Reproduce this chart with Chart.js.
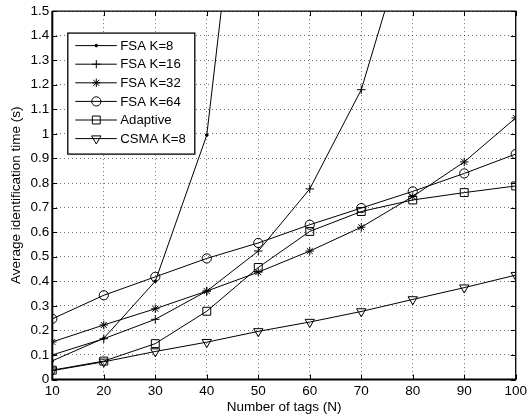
<!DOCTYPE html>
<html>
<head>
<meta charset="utf-8">
<script src="https://cdn.jsdelivr.net/npm/chart.js@4"></script>
<style>
  html, body { margin: 0; padding: 0; background: #fff; }
  canvas { display: block; }
</style>
</head>
<body>
<canvas id="chart" width="531" height="418"></canvas>
<script>
// number of tags on the x axis
const tagCounts = [10, 20, 30, 40, 50, 60, 70, 80, 90, 100];

// average identification time (s) per scheme
const fsaK8    = [0.076, 0.168, 0.400, 0.995, 2.80, null, null, null, null, null];
const fsaK16   = [0.100, 0.166, 0.245, 0.360, 0.523, 0.776, 1.180, 1.880, null, null];
const fsaK32   = [0.153, 0.222, 0.288, 0.360, 0.437, 0.523, 0.620, 0.745, 0.886, 1.065];
const fsaK64   = [0.247, 0.343, 0.418, 0.493, 0.556, 0.630, 0.698, 0.766, 0.839, 0.918];
const adaptive = [0.038, 0.075, 0.146, 0.278, 0.456, 0.603, 0.684, 0.731, 0.761, 0.788];
const csmaK8   = [0.036, 0.072, 0.114, 0.152, 0.196, 0.234, 0.277, 0.326, 0.374, 0.425];

const seriesNames = ['FSA K=8', 'FSA K=16', 'FSA K=32', 'FSA K=64', 'Adaptive', 'CSMA K=8'];
const yTickLabels = ['0', '0.1', '0.2', '0.3', '0.4', '0.5', '0.6', '0.7', '0.8', '0.9',
                     '1', '1.1', '1.2', '1.3', '1.4', '1.5'];

const FONT = 'Liberation Sans, Arial, Helvetica, sans-serif';

function points(values) {
  return tagCounts.map((n, i) => ({ x: n, y: values[i] }));
}

// marker style for each series, MATLAB-like hollow markers
function series(label, values, style, radius, rotation, fill) {
  return {
    label: label,
    data: points(values),
    borderColor: '#000',
    borderWidth: 1,
    tension: 0,
    fill: false,
    pointStyle: style,
    pointRadius: radius,
    pointHoverRadius: radius,
    pointRotation: rotation || 0,
    pointBorderColor: '#000',
    pointBorderWidth: 1,
    pointBackgroundColor: fill ? '#000' : 'rgba(0,0,0,0)'
  };
}

// frame, inward tick marks on all four sides
const framePlugin = {
  id: 'frame',
  afterDatasetsDraw(chart) {
    const ctx = chart.ctx;
    const a = chart.chartArea;
    const xs = chart.scales.x, ys = chart.scales.y;
    ctx.save();
    ctx.strokeStyle = '#000';
    ctx.lineWidth = 1;
    ctx.beginPath();
    xs.ticks.forEach(t => {
      const px = Math.round(xs.getPixelForValue(t.value)) + 0.5;
      ctx.moveTo(px, a.bottom); ctx.lineTo(px, a.bottom - 5);
      ctx.moveTo(px, a.top); ctx.lineTo(px, a.top + 5);
    });
    ys.ticks.forEach(t => {
      const py = Math.round(ys.getPixelForValue(t.value)) + 0.5;
      ctx.moveTo(a.left, py); ctx.lineTo(a.left + 5, py);
      ctx.moveTo(a.right, py); ctx.lineTo(a.right - 5, py);
    });
    ctx.stroke();
    // top and right edges thin, left and bottom heavier
    ctx.lineWidth = 1.3;
    ctx.beginPath();
    ctx.moveTo(a.left, a.top); ctx.lineTo(a.right, a.top); ctx.lineTo(a.right, a.bottom);
    ctx.stroke();
    ctx.lineWidth = 2;
    ctx.beginPath();
    ctx.moveTo(a.left, a.top); ctx.lineTo(a.left, a.bottom); ctx.lineTo(a.right, a.bottom);
    ctx.stroke();
    ctx.restore();
  }
};

// boxed legend in the upper left, line sample with marker
const legendBoxPlugin = {
  id: 'legendBox',
  afterDraw(chart) {
    const ctx = chart.ctx;
    const a = chart.chartArea;
    const bx = a.left + 15.5, by = a.top + 22, bw = 127, bh = 121;
    ctx.save();
    ctx.fillStyle = '#fff';
    ctx.fillRect(bx, by, bw, bh);
    ctx.strokeStyle = '#000';
    ctx.lineWidth = 1.3;
    ctx.strokeRect(bx, by, bw, bh);
    ctx.font = '13.2px ' + FONT;
    ctx.textBaseline = 'middle';
    ctx.textAlign = 'left';
    chart.data.datasets.forEach((ds, i) => {
      const y = by + 12.5 + i * 18.6;
      ctx.strokeStyle = '#000';
      ctx.lineWidth = 1;
      ctx.beginPath();
      ctx.moveTo(bx + 7.5, y);
      ctx.lineTo(bx + 49, y);
      ctx.stroke();
      ctx.fillStyle = ds.pointBackgroundColor;
      Chart.helpers.drawPoint(ctx, {
        pointStyle: ds.pointStyle,
        rotation: ds.pointRotation,
        radius: ds.pointRadius,
        borderWidth: 1
      }, bx + 28.5, y);
      ctx.fillStyle = '#000';
      ctx.fillText(ds.label, bx + 52.5, y + 0.5);
    });
    ctx.restore();
  }
};

new Chart(document.getElementById('chart'), {
  type: 'line',
  data: {
    datasets: [
      series(seriesNames[0], fsaK8, 'circle', 1.3, 0, true),
      series(seriesNames[1], fsaK16, 'cross', 4.2, 0, false),
      series(seriesNames[2], fsaK32, 'star', 4.2, 0, false),
      series(seriesNames[3], fsaK64, 'circle', 4.6, 0, false),
      series(seriesNames[4], adaptive, 'rect', 5.6, 0, false),
      series(seriesNames[5], csmaK8, 'triangle', 5.4, 180, false)
    ]
  },
  options: {
    responsive: false,
    animation: false,
    events: [],
    layout: { padding: { left: 0, right: 10.3, top: 10.5, bottom: 0 } },
    plugins: {
      legend: { display: false },
      tooltip: { enabled: false }
    },
    scales: {
      x: {
        type: 'linear',
        min: 10,
        max: 100,
        afterFit(scale) { scale.height = 38.5; },
        ticks: {
          stepSize: 10,
          padding: 4,
          color: '#000',
          font: { family: FONT, size: 13.5 }
        },
        grid: {
          color: 'rgba(0,0,0,0.55)',
          lineWidth: 1,
          drawTicks: false,
          tickLength: 0
        },
        border: { display: false, dash: [1, 3] },
        title: {
          display: true,
          text: 'Number of tags (N)',
          color: '#000',
          font: { family: FONT, size: 13.5 },
          padding: { top: 0, bottom: 3 }
        }
      },
      y: {
        type: 'linear',
        min: 0,
        max: 1.5,
        afterFit(scale) { scale.width = 52.3; },
        ticks: {
          stepSize: 0.1,
          padding: 3,
          color: '#000',
          font: { family: FONT, size: 13.5 },
          callback: (v) => yTickLabels[Math.round(v * 10)]
        },
        grid: {
          color: 'rgba(0,0,0,0.55)',
          lineWidth: 1,
          drawTicks: false,
          tickLength: 0
        },
        border: { display: false, dash: [1, 3] },
        title: {
          display: true,
          text: 'Average identification time (s)',
          color: '#000',
          font: { family: FONT, size: 13.5 },
          padding: { top: 8, bottom: 0 }
        }
      }
    }
  },
  plugins: [framePlugin, legendBoxPlugin]
});
</script>
</body>
</html>
